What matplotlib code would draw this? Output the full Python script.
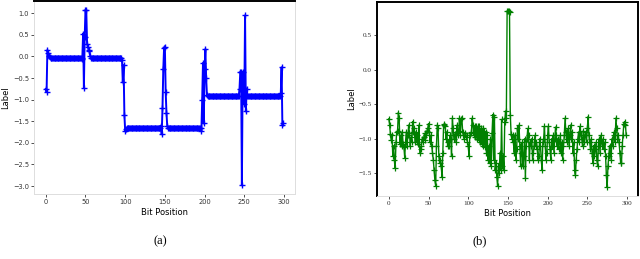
import matplotlib
matplotlib.use("Agg")
import matplotlib.pyplot as plt
import numpy as np

# (a) predicted label per bit position
label_a = [
    -0.75, -0.82, 0.15, 0.08, 0.02, -0.02, -0.03, -0.03, -0.03, -0.03,
    -0.03, -0.03, -0.03, -0.03, -0.03, -0.03, -0.03, -0.03, -0.03, -0.03,
    -0.03, -0.03, -0.03, -0.03, -0.03, -0.03, -0.03, -0.03, -0.03, -0.03,
    -0.03, -0.03, -0.03, -0.03, -0.03, -0.03, -0.03, -0.03, -0.03, -0.03,
    -0.03, -0.03, -0.03, -0.03, -0.03, -0.04, -0.05, 0.53, -0.72, 0.45,
    1.08, 1.07, 0.30, 0.22, 0.15, 0.13, 0.00, -0.03, -0.03, -0.03,
    -0.03, -0.03, -0.03, -0.03, -0.03, -0.03, -0.03, -0.03, -0.03, -0.03,
    -0.03, -0.03, -0.03, -0.03, -0.03, -0.03, -0.03, -0.03, -0.03, -0.03,
    -0.03, -0.03, -0.03, -0.03, -0.03, -0.03, -0.03, -0.03, -0.03, -0.03,
    -0.03, -0.03, -0.03, -0.03, -0.03, -0.04, -0.08, -0.60, -0.20, -1.35,
    -1.72, -1.68, -1.65, -1.65, -1.65, -1.65, -1.65, -1.65, -1.65, -1.65,
    -1.65, -1.65, -1.65, -1.65, -1.65, -1.65, -1.65, -1.65, -1.65, -1.65,
    -1.65, -1.65, -1.65, -1.65, -1.65, -1.65, -1.65, -1.65, -1.65, -1.65,
    -1.65, -1.65, -1.65, -1.65, -1.65, -1.65, -1.65, -1.65, -1.65, -1.65,
    -1.65, -1.65, -1.65, -1.65, -1.65, -1.60, -1.80, -1.20, -0.30, 0.20,
    0.23, -0.82, -1.30, -1.62, -1.65, -1.65, -1.65, -1.65, -1.65, -1.65,
    -1.65, -1.65, -1.65, -1.65, -1.65, -1.65, -1.65, -1.65, -1.65, -1.65,
    -1.65, -1.65, -1.65, -1.65, -1.65, -1.65, -1.65, -1.65, -1.65, -1.65,
    -1.65, -1.65, -1.65, -1.65, -1.65, -1.65, -1.65, -1.65, -1.65, -1.65,
    -1.65, -1.65, -1.65, -1.65, -1.65, -1.65, -1.72, -1.00, -0.15, -1.55,
    -0.30, 0.17, -0.50, -0.90, -0.92, -0.92, -0.92, -0.92, -0.92, -0.92,
    -0.92, -0.92, -0.92, -0.92, -0.92, -0.92, -0.92, -0.92, -0.92, -0.92,
    -0.92, -0.92, -0.92, -0.92, -0.92, -0.92, -0.92, -0.92, -0.92, -0.92,
    -0.92, -0.92, -0.92, -0.92, -0.92, -0.92, -0.92, -0.92, -0.92, -0.92,
    -0.92, -0.92, -0.92, -0.92, -0.75, -0.35, -0.35, -2.98, -0.35, -0.70,
    -1.10, 0.95, -1.27, -0.75, -0.92, -0.92, -0.92, -0.92, -0.92, -0.92,
    -0.92, -0.92, -0.92, -0.92, -0.92, -0.92, -0.92, -0.92, -0.92, -0.92,
    -0.92, -0.92, -0.92, -0.92, -0.92, -0.92, -0.92, -0.92, -0.92, -0.92,
    -0.92, -0.92, -0.92, -0.92, -0.92, -0.92, -0.92, -0.92, -0.92, -0.92,
    -0.92, -0.92, -0.92, -0.92, -0.92, -0.92, -0.85, -0.25, -1.58, -1.55,
]

# (b) predicted label per bit position
label_b = [
    -0.71, -0.80, -0.93, -1.02, -0.95, -1.25, -1.10, -1.30, -1.42, -1.05,
    -0.90, -0.88, -0.62, -0.70, -1.08, -0.95, -1.10, -0.90, -1.08, -1.12,
    -1.27, -1.05, -0.90, -1.10, -0.95, -0.80, -0.92, -1.10, -0.98, -1.05,
    -0.75, -0.90, -0.85, -1.05, -0.90, -1.05, -0.95, -1.08, -0.80, -1.20,
    -1.15, -1.10, -1.00, -1.05, -0.98, -0.92, -1.02, -0.95, -0.88, -0.85,
    -0.78, -0.90, -1.05, -0.95, -1.10, -1.20, -1.30, -1.45, -1.60, -1.68,
    -1.10, -0.80, -0.85, -1.25, -1.35, -1.30, -1.40, -1.55, -1.20, -0.80,
    -0.78, -0.82, -1.00, -0.90, -1.10, -1.05, -1.10, -0.95, -1.00, -1.25,
    -0.70, -0.85, -1.00, -0.95, -0.90, -1.05, -0.80, -0.95, -0.88, -0.70,
    -0.95, -0.72, -0.70, -0.90, -0.95, -1.00, -0.92, -0.98, -0.95, -1.05,
    -1.10, -1.25, -0.95, -0.92, -0.90, -0.70, -0.80, -0.95, -0.82, -0.98,
    -0.82, -1.00, -0.82, -1.02, -0.82, -1.05, -0.85, -1.08, -0.85, -1.10,
    -0.88, -1.12, -0.90, -1.20, -0.95, -1.30, -1.10, -1.35, -1.00, -1.40,
    -0.92, -0.65, -1.30, -0.68, -1.45, -1.35, -1.55, -1.68, -1.40, -1.50,
    -1.20, -1.45, -0.72, -1.40, -1.25, -1.45, -0.75, -0.60, -0.70, 0.85,
    0.85, 0.85, 0.83, -0.65, -0.93, -1.00, -0.95, -1.05, -1.20, -0.95,
    -1.30, -1.15, -0.85, -1.00, -0.80, -1.10, -1.40, -1.20, -1.05, -1.40,
    -1.25, -1.00, -1.57, -1.10, -1.00, -0.85, -0.95, -1.30, -1.05, -1.10,
    -1.00, -1.30, -1.20, -1.10, -0.95, -1.10, -1.05, -1.15, -1.30, -1.25,
    -1.00, -1.10, -1.30, -1.45, -1.05, -1.00, -0.82, -1.10, -1.30, -1.20,
    -0.95, -0.82, -1.05, -1.15, -1.30, -1.00, -1.10, -0.95, -1.20, -1.00,
    -0.83, -0.95, -1.10, -1.00, -1.15, -1.05, -0.95, -1.20, -1.05, -1.30,
    -1.10, -0.95, -0.70, -0.90, -1.05, -1.00, -0.85, -1.10, -0.95, -0.80,
    -1.00, -0.90, -1.20, -1.05, -1.45, -1.52, -1.30, -1.15, -1.00, -0.90,
    -1.05, -0.82, -0.95, -1.00, -1.10, -0.88, -1.05, -0.95, -0.90, -1.05,
    -0.85, -0.68, -0.95, -1.05, -1.15, -1.00, -1.20, -1.35, -1.10, -1.25,
    -1.15, -1.05, -1.30, -1.40, -1.10, -1.00, -1.20, -0.95, -1.05, -1.10,
    -1.00, -1.15, -1.05, -1.25, -1.52, -1.70, -1.40, -1.25, -1.10, -1.20,
    -1.30, -1.00, -1.10, -0.95, -0.90, -1.05, -0.70, -0.85, -1.00, -0.95,
    -1.05, -1.20, -1.35, -1.35, -1.10, -0.95, -0.78, -0.75, -0.80, -0.95,
]

bits = np.arange(len(label_a))

fig = plt.figure(figsize=(6.4, 2.59), dpi=100)
ax1 = fig.add_axes([0.053, 0.251, 0.408, 0.745])
ax2 = fig.add_axes([0.589, 0.243, 0.408, 0.749])

ax1.plot(bits, label_a, "-", color="blue", marker="+", markersize=3.8,
         markeredgewidth=1.0, linewidth=1.4)
ax2.plot(np.arange(len(label_b)), label_b, "-", color="green", marker="+",
         markersize=3.8, markeredgewidth=0.9, linewidth=1.0)

for ax in (ax1, ax2):
    ax.set_xticks([0, 50, 100, 150, 200, 250, 300])
    ax.tick_params(labelsize=4.8, length=2, width=0.6, pad=1.5,
                   colors="#333333")
    ax.set_xlabel("Bit Position", fontsize=6, labelpad=2)
    ax.set_ylabel("Label", fontsize=6, labelpad=2)
    for s in ax.spines.values():
        s.set_color("#dddddd")
        s.set_linewidth(0.7)
    ax.spines["top"].set_color("black")
    ax.spines["top"].set_linewidth(1.4)

ax1.set_yticks([1.0, 0.5, 0.0, -0.5, -1.0, -1.5, -2.0, -2.5, -3.0])
ax2.set_yticks([0.5, 0.0, -0.5, -1.0, -1.5])
for side in ("left", "right"):
    ax2.spines[side].set_color("black")
    ax2.spines[side].set_linewidth(1.4)
for lab in ax2.get_xticklabels() + ax2.get_yticklabels():
    lab.set_family("Liberation Serif")
    lab.set_fontsize(5.2)

fig.text(0.25, 0.07, "(a)", ha="center", va="center", fontsize=9,
         family="Liberation Serif")
fig.text(0.75, 0.07, "(b)", ha="center", va="center", fontsize=9,
         family="Liberation Serif")

fig.savefig("out.png", dpi=100)
